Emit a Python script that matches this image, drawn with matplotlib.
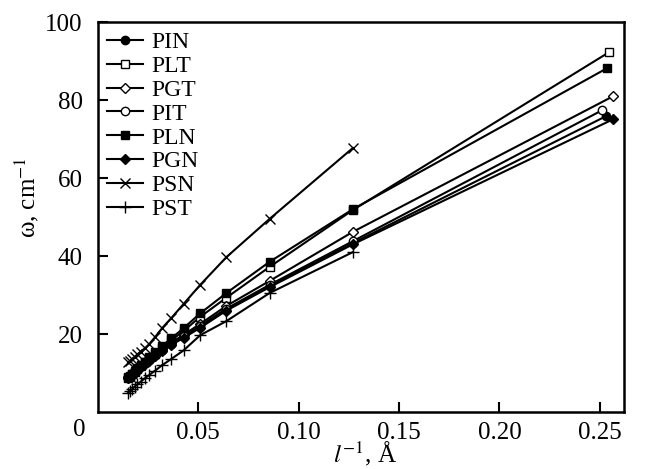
import matplotlib
matplotlib.use("Agg")
import matplotlib.pyplot as plt

plt.rcParams['font.family'] = ['Liberation Serif', 'DejaVu Serif']
plt.rcParams['mathtext.fontset'] = 'stix'

# 1/l values (A^-1); the long series start near 0.25, PSN and PST near 0.125
x_tail = [0.127, 0.0855, 0.064, 0.051, 0.0427, 0.0366, 0.032, 0.0285, 0.0256,
          0.0233, 0.0214, 0.0197, 0.0183, 0.0171, 0.016, 0.0151]
x_end = {"PIN": 0.2532, "PLT": 0.2547, "PGT": 0.2567, "PIT": 0.2512,
         "PLN": 0.2537, "PGN": 0.2567}

pin = [75.9, 43.3, 32.3, 26.2, 21.8, 19.2, 17.4, 15.8, 14.5, 13.4, 12.5, 11.7, 11.0, 10.3, 9.7, 9.2, 8.8]
plt_ = [92.3, 51.8, 37.2, 29.3, 24.4, 20.8, 18.4, 16.5, 15.0, 13.8, 12.7, 11.8, 11.0, 10.3, 9.7, 9.1, 8.7]
pgt = [81.0, 46.2, 33.6, 27.2, 22.6, 19.8, 17.8, 16.1, 14.8, 13.6, 12.7, 11.9, 11.1, 10.5, 9.9, 9.3, 8.9]
pit = [77.4, 43.8, 32.6, 26.5, 22.1, 19.4, 17.5, 15.9, 14.6, 13.5, 12.6, 11.8, 11.1, 10.4, 9.8, 9.3, 8.9]
pln = [88.2, 52.0, 38.5, 30.5, 25.3, 21.5, 18.9, 16.9, 15.3, 14.0, 12.9, 12.0, 11.2, 10.5, 9.8, 9.3, 8.9]
pgn = [75.1, 43.0, 32.0, 26.0, 21.6, 19.0, 17.2, 15.6, 14.3, 13.2, 12.3, 11.5, 10.8, 10.1, 9.5, 9.0, 8.6]
psn = [67.7, 49.5, 39.7, 32.6, 27.7, 24.1, 21.5, 19.2, 17.4, 16.3, 15.5, 14.8, 14.1, 13.6, 13.1, 12.7]
pst = [41.0, 30.5, 23.3, 19.7, 15.8, 13.6, 12.0, 10.6, 9.5, 8.6, 7.8, 7.1, 6.5, 5.9, 5.4, 4.9]

series = [
    ("PIN", pin, dict(marker='o', mfc='black')),
    ("PLT", plt_, dict(marker='s', mfc='white', ms=5.5)),
    ("PGT", pgt, dict(marker='D', mfc='white', ms=5)),
    ("PIT", pit, dict(marker='o', mfc='white')),
    ("PLN", pln, dict(marker='s', mfc='black', ms=5.5)),
    ("PGN", pgn, dict(marker='D', mfc='black', ms=5.5)),
    ("PSN", psn, dict(marker='x', ms=6.5)),
    ("PST", pst, dict(marker='+', ms=8)),
]

fig = plt.figure(figsize=(6.52, 4.69), dpi=100)
ax = fig.add_axes([0.150, 0.1215, 0.807, 0.8315])

for name, y, style in series:
    if name in x_end:
        x = [x_end[name]] + x_tail
    else:
        x = x_tail
    kw = dict(color='black', lw=1.5, ms=6, mec='black', mew=1.0)
    kw.update(style)
    ax.plot(x, y, label=name, **kw)

ax.set_xlim(0, 0.262)
ax.set_ylim(0, 100)
ax.set_xticks([0.05, 0.10, 0.15, 0.20, 0.25])
ax.set_xticklabels(["0.05", "0.10", "0.15", "0.20", "0.25"])
ax.set_yticks([20, 40, 60, 80, 100])
ax.tick_params(direction='in', length=7, width=1.5, labelsize=18,
               top=False, right=False)
ax.tick_params(axis='x', pad=7)
ax.tick_params(axis='y', pad=11)
for sp in ax.spines.values():
    sp.set_linewidth(1.8)

ax.annotate("0", xy=(0, 0), xycoords='axes fraction', xytext=(-13, -13),
            textcoords='offset points', ha='center', va='center', fontsize=18)

ax.set_xlabel(r"$l^{-1}$, Å", fontsize=18)
ax.xaxis.set_label_coords(0.508, -0.07)
ax.set_ylabel(r"ω, cm$^{-1}$", fontsize=18)
ax.yaxis.set_label_coords(-0.108, 0.55)

ax.legend(loc='upper left', frameon=False, fontsize=17, handlelength=1.5,
          handletextpad=0.35, labelspacing=0.1, borderaxespad=0.25,
          borderpad=0.15)

fig.savefig("out.png", dpi=100)
